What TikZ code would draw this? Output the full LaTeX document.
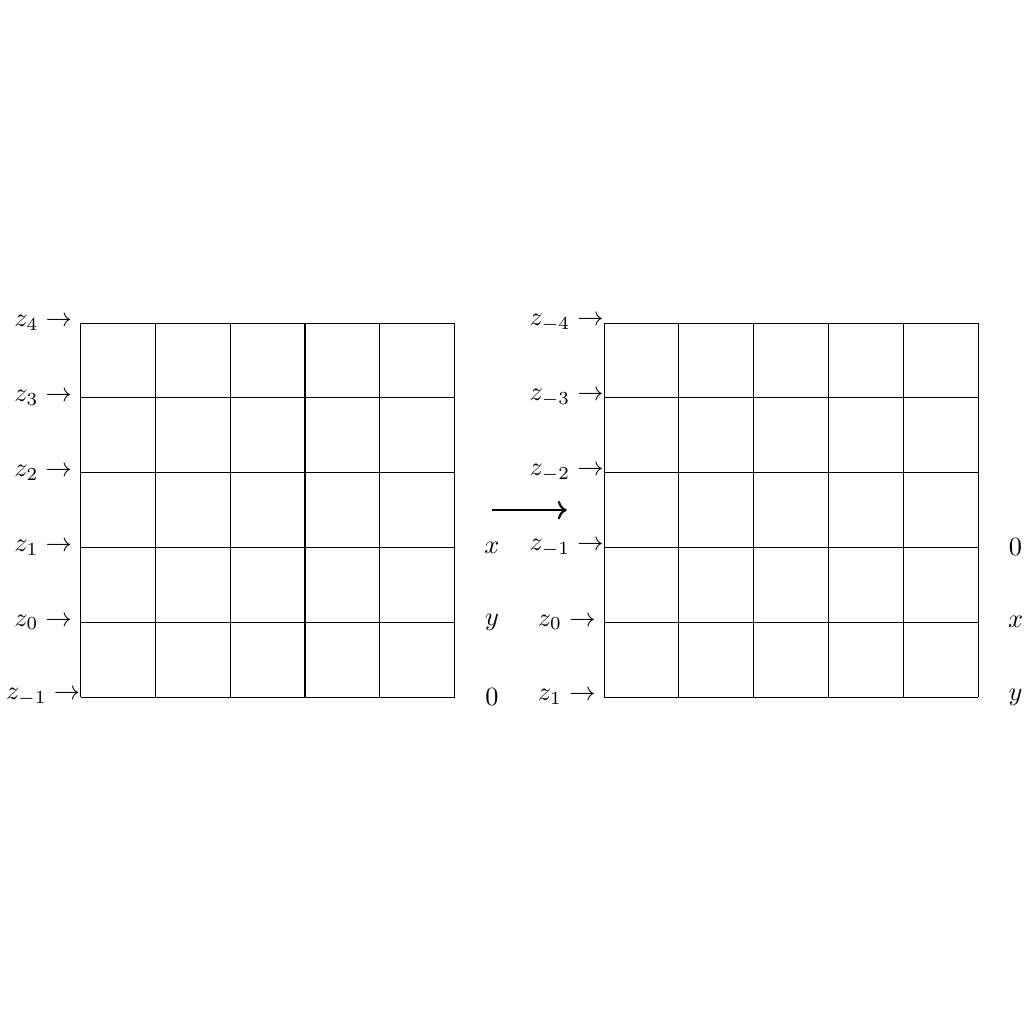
\documentclass[tikz,border=0pt]{standalone}
\usepackage{amsmath}
\usepackage{amssymb}
\usepackage{tikz}
\usetikzlibrary{arrows.meta,calc}

\begin{document}
\begin{tikzpicture}
\useasboundingbox (-1.077,-4.37) rectangle (12.613,9.32);
% left grid, before the shift
\draw (0,0) grid (5,5);
\draw[thick] (3,0) -- (3,5);
\foreach \i in {0,...,5}{
 \pgfmathtruncatemacro{\k}{\i-1}
 \node (lz\i) at (-0.5,\i) {$z_{\k}\rightarrow$};
}
\node (lx) at (5.5,2) {$x$};
\node (ly) at (5.5,1) {$y$};
\node (lzero) at (5.5,0) {$0$};
% the map
\coordinate (from) at (5.5,2.5);
\coordinate (to) at (6.5,2.5);
\draw[->,thick] (from) -- (to);
% right grid, after the shift
\draw (7,0) grid (12,5);
\foreach \i in {0,...,5}{
 \pgfmathtruncatemacro{\k}{1-\i}
 \node (rz\i) at (6.5,\i) {$z_{\k}\rightarrow$};
}
\node (rzero) at (12.5,2) {$0$};
\node (rx) at (12.5,1) {$x$};
\node (ry) at (12.5,0) {$y$};
\end{tikzpicture}
\end{document}
